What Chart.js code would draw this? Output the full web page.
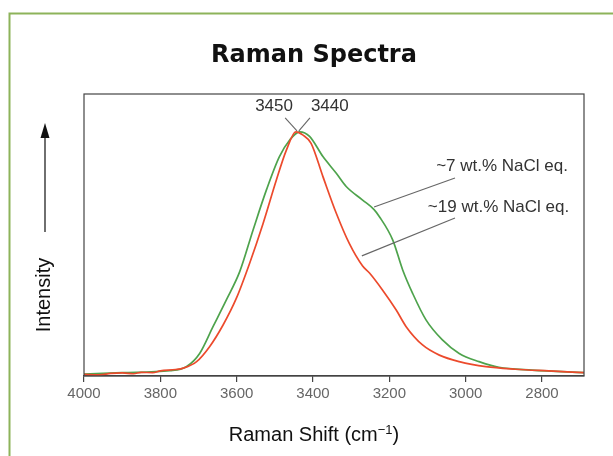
<!DOCTYPE html>
<html><head><meta charset="utf-8">
<script src="https://cdn.jsdelivr.net/npm/chart.js@4/dist/chart.umd.min.js"></script>
<style>html,body{margin:0;padding:0;background:#fff}#wrap{width:613px;height:456px;position:relative}</style>
</head><body><div id="wrap"><canvas id="c" width="613" height="456"></canvas></div>
<script>
const xTicks = [4000,3800,3600,3400,3200,3000,2800];
const redShift = [4000,3960,3930,3900,3870,3850,3820,3800,3760,3740,3705,3671,3636,3601,3566,3531,3496,3470,3445,3427,3405,3374,3339,3305,3270,3252,3218,3182,3156,3113,3069,3017,2947,2869,2782,2690];
const redInt   = [0.6,0.4,0.9,1.1,0.8,1.3,1.2,1.8,2.3,2.8,5.1,10.4,18,27.5,40,54,69.5,80,86.6,85.5,82.5,70.7,57.7,47,39,36.5,30.5,23.4,17.5,11,7.4,5.1,3.3,2.4,1.8,1.2];
const greenShift = [4000,3900,3775,3732,3697,3662,3627,3592,3557,3522,3488,3461,3435,3409,3374,3339,3313,3270,3240,3226,3191,3165,3139,3104,3061,3017,2965,2913,2826,2690];
const greenInt   = [0.7,1.2,1.9,3.3,8,17.5,27,37,51.8,66,77.8,83.7,86.6,85,77.8,71.9,67.2,62.4,59,56.5,48.2,37.6,29.3,19.9,12.8,8,5.1,3.1,2.1,1.2];
const peakLabels = [
  {text:'3450', tx:3502, ty:95.6, x1:3473, y1:91.5, x2:3442, y2:86.9},
  {text:'3440', tx:3356, ty:95.6, x1:3408, y1:91.5, x2:3437, y2:86.9}
];
const seriesLabels = [
  {text:'~7 wt.% NaCl eq.', tx:2732, ty:74.3, x1:3028, y1:70.2, x2:3240, y2:59.9},
  {text:'~19 wt.% NaCl eq.', tx:2729, ty:59.7, x1:3028, y1:56, x2:3272, y2:42.6}
];
const FONT = '"Liberation Sans", Arial, sans-serif';

const deco = {
  id:'deco',
  beforeDraw(chart){
    const ctx = chart.ctx;
    ctx.save();
    ctx.fillStyle='#fff'; ctx.fillRect(0,0,613,456);
    ctx.strokeStyle='#8db35a'; ctx.lineWidth=2;
    ctx.beginPath(); ctx.moveTo(9.5,460); ctx.lineTo(9.5,13.5); ctx.lineTo(620,13.5); ctx.stroke();
    ctx.restore();
  },
  afterDraw(chart){
    const ctx = chart.ctx, xs = chart.scales.x, ys = chart.scales.y, a = chart.chartArea;
    ctx.save();
    ctx.strokeStyle='#444'; ctx.lineWidth=1.2;
    ctx.strokeRect(a.left, a.top, a.right-a.left, a.bottom-a.top);
    // title
    ctx.fillStyle='#111'; ctx.font='bold 24px "DejaVu Sans", sans-serif';
    ctx.textAlign='center'; ctx.textBaseline='alphabetic';
    ctx.fillText('Raman Spectra', 314, 62);
    // x title
    ctx.fillStyle='#111';
    const t1='Raman Shift (cm', t2='\u22121', t3=')';
    ctx.font='20px '+FONT; const w1=ctx.measureText(t1).width, w3=ctx.measureText(t3).width;
    ctx.font='13px '+FONT; const w2=ctx.measureText(t2).width;
    let sx = 314 - (w1+w2+w3)/2;
    ctx.textAlign='left';
    ctx.font='20px '+FONT; ctx.fillText(t1, sx, 441);
    ctx.font='13px '+FONT; ctx.fillText(t2, sx+w1, 434);
    ctx.font='20px '+FONT; ctx.fillText(t3, sx+w1+w2, 441);
    // Intensity label + arrow
    ctx.save(); ctx.translate(50,295); ctx.rotate(-Math.PI/2);
    ctx.textAlign='center'; ctx.textBaseline='alphabetic'; ctx.font='20px '+FONT; ctx.fillStyle='#111';
    ctx.fillText('Intensity',0,0); ctx.restore();
    ctx.strokeStyle='#222'; ctx.lineWidth=1.3;
    ctx.beginPath(); ctx.moveTo(45,232); ctx.lineTo(45,134); ctx.stroke();
    ctx.fillStyle='#111'; ctx.beginPath(); ctx.moveTo(45,123); ctx.lineTo(40.5,138); ctx.lineTo(49.5,138); ctx.closePath(); ctx.fill();
    // annotations
    ctx.strokeStyle='#666'; ctx.lineWidth=1.1;
    ctx.font='17px '+FONT; ctx.fillStyle='#333'; ctx.textBaseline='middle';
    peakLabels.forEach(p=>{
      ctx.textAlign='center';
      ctx.fillText(p.text, xs.getPixelForValue(p.tx), ys.getPixelForValue(p.ty));
      ctx.beginPath(); ctx.moveTo(xs.getPixelForValue(p.x1), ys.getPixelForValue(p.y1));
      ctx.lineTo(xs.getPixelForValue(p.x2), ys.getPixelForValue(p.y2)); ctx.stroke();
    });
    seriesLabels.forEach(p=>{
      ctx.textAlign='right';
      ctx.fillText(p.text, xs.getPixelForValue(p.tx), ys.getPixelForValue(p.ty));
      ctx.beginPath(); ctx.moveTo(xs.getPixelForValue(p.x1), ys.getPixelForValue(p.y1));
      ctx.lineTo(xs.getPixelForValue(p.x2), ys.getPixelForValue(p.y2)); ctx.stroke();
    });
    ctx.restore();
  }
};

new Chart(document.getElementById('c'), {
  type:'line',
  data:{datasets:[
    {label:'~19 wt.% NaCl eq.', data:redShift.map((x,i)=>({x, y:redInt[i]})), borderColor:'#ec4a2c', borderWidth:1.7, pointRadius:0, tension:0.4, cubicInterpolationMode:'monotone', fill:false},
    {label:'~7 wt.% NaCl eq.', data:greenShift.map((x,i)=>({x, y:greenInt[i]})), borderColor:'#4ea34c', borderWidth:1.7, pointRadius:0, tension:0.4, cubicInterpolationMode:'monotone', fill:false}
  ]},
  options:{
    responsive:false, animation:false, devicePixelRatio:1,
    layout:{padding:{left:84, top:94, right:29, bottom:0}},
    plugins:{legend:{display:false}, tooltip:{enabled:false}, title:{display:false}},
    scales:{
      x:{type:'linear', reverse:true, min:2690, max:4000,
        afterBuildTicks(s){ s.ticks = xTicks.map(v=>({value:v})); },
        afterFit(s){ s.height = 80; },
        grid:{display:true, drawOnChartArea:false, drawTicks:true, tickLength:6, color:'#444', lineWidth:1.2},
        border:{display:true, color:'#444', width:1.2},
        ticks:{color:'#666', font:{family:'"Liberation Sans", Arial, sans-serif', size:15}, padding:3, maxRotation:0, autoSkip:false,
          callback:(v)=>String(v)}
      },
      y:{display:false, min:0, max:100}
    }
  },
  plugins:[deco]
});
</script></body></html>
